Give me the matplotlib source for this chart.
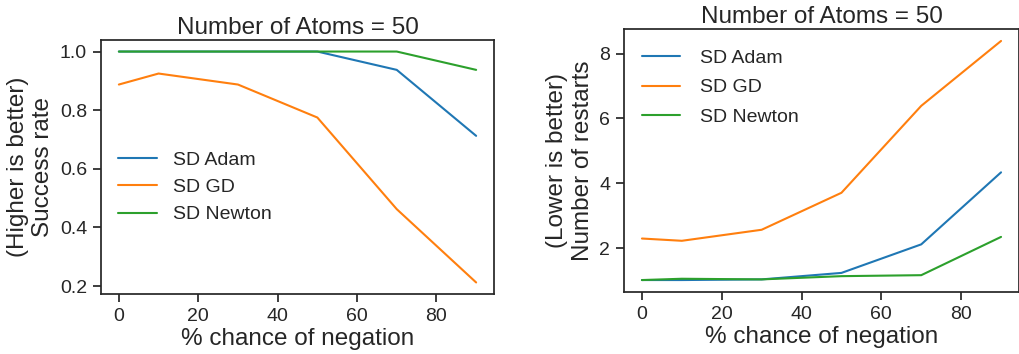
import matplotlib
matplotlib.use("Agg")
from matplotlib import pyplot as plt
import seaborn as sns

negation = [0, 10, 30, 50, 70, 90]

success_adam = [1.0, 1.0, 1.0, 1.0, 0.9375, 0.7125]
success_gd = [0.8875, 0.925, 0.8875, 0.775, 0.4625, 0.2125]
success_newton = [1.0, 1.0, 1.0, 1.0, 1.0, 0.9375]

restarts_adam = [1.02, 1.02, 1.04, 1.24, 2.12, 4.34]
restarts_gd = [2.30, 2.23, 2.57, 3.71, 6.39, 8.39]
restarts_newton = [1.02, 1.06, 1.04, 1.14, 1.17, 2.35]

labels = ["SD Adam", "SD GD", "SD Newton"]
title = "Number of Atoms = 50"

sns.set_style("ticks")
plt.rcParams['font.family'] = ['Liberation Sans', 'DejaVu Sans']
plt.rcParams['axes.linewidth'] = 1.25
plt.rcParams['xtick.major.size'] = 6
plt.rcParams['ytick.major.size'] = 6
plt.rcParams['xtick.major.width'] = 1.25
plt.rcParams['ytick.major.width'] = 1.25

fig = plt.figure(figsize=(10.2, 3.54), dpi=100)
ax1 = fig.add_axes([101 / 1020, 60 / 354, 393 / 1020, 254 / 354])
ax2 = fig.add_axes([624 / 1020, 62 / 354, 395 / 1020, 263 / 354])

for ax, ys in ((ax1, (success_adam, success_gd, success_newton)),
               (ax2, (restarts_adam, restarts_gd, restarts_newton))):
    for y, lab in zip(ys, labels):
        ax.plot(negation, y, label=lab, linewidth=1.5)
    ax.set_title(title, fontsize=17.5, pad=4)
    ax.set_xlabel("% chance of negation", fontsize=17.5, labelpad=2)
    ax.tick_params(labelsize=14, pad=4)
    ax.set_xticks([0, 20, 40, 60, 80])

ax1.set_ylabel("(Higher is better)\nSuccess rate", fontsize=17.5, labelpad=4)
ax2.set_ylabel("(Lower is better)\nNumber of restarts", fontsize=17.5, labelpad=4)
ax1.set_yticks([0.2, 0.4, 0.6, 0.8, 1.0])
ax2.set_yticks([2, 4, 6, 8])

ax1.legend(loc="center left", bbox_to_anchor=(0.0, 0.42), frameon=False, fontsize=14)
ax2.legend(loc="upper left", bbox_to_anchor=(0.0, 0.99), frameon=False, fontsize=14,
           labelspacing=0.62, handletextpad=1.0)

fig.savefig("out.png", dpi=100)
